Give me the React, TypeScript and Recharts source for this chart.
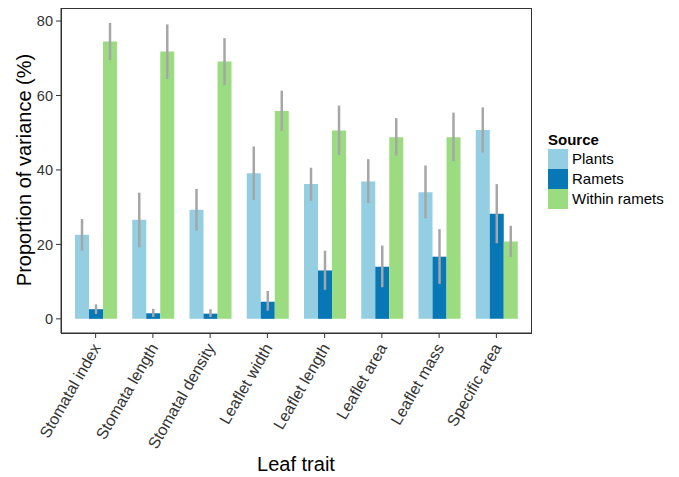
import { BarChart, Bar, XAxis, YAxis, ErrorBar } from "recharts";

const categories = [
  "Stomatal index",
  "Stomata length",
  "Stomatal density",
  "Leaflet width",
  "Leaflet length",
  "Leaflet area",
  "Leaflet mass",
  "Specific area",
];

const plants = [22.6, 26.6, 29.3, 39.1, 36.2, 36.9, 34.0, 50.7];
const plantsLow = [18.3, 19.2, 23.7, 31.9, 31.7, 31.1, 27.0, 44.7];
const plantsHigh = [26.8, 33.9, 34.9, 46.3, 40.6, 42.9, 41.2, 56.8];

const ramets = [2.6, 1.5, 1.4, 4.6, 13.0, 14.0, 16.7, 28.2];
const rametsLow = [1.3, 0.5, 0.5, 2.2, 7.8, 8.5, 9.4, 20.3];
const rametsHigh = [3.9, 2.7, 2.6, 7.5, 18.3, 19.7, 24.1, 36.2];

const within = [74.5, 71.8, 69.1, 55.8, 50.6, 48.8, 48.8, 20.8];
const withinLow = [69.5, 64.4, 62.8, 50.5, 44.0, 43.8, 42.4, 16.6];
const withinHigh = [79.5, 79.1, 75.4, 61.3, 57.3, 53.9, 55.4, 25.0];

const yTicks = [0, 20, 40, 60, 80];

const SERIES = [
  { key: "plants", name: "Plants", color: "#93cee2" },
  { key: "ramets", name: "Ramets", color: "#0877b6" },
  { key: "within", name: "Within ramets", color: "#9adc7f" },
];

const data = categories.map((trait, i) => ({
  trait,
  plants: plants[i],
  plantsErr: [plants[i] - plantsLow[i], plantsHigh[i] - plants[i]],
  ramets: ramets[i],
  rametsErr: [ramets[i] - rametsLow[i], rametsHigh[i] - ramets[i]],
  within: within[i],
  withinErr: [within[i] - withinLow[i], withinHigh[i] - within[i]],
}));

const FONT = "'Liberation Sans', Arial, sans-serif";
const ERR = "#a6a6a6";

const TraitTick = ({ x, y, payload }: any) => {
  const ox = x - 4;
  const oy = y + 2;
  return (
    <text
      x={ox}
      y={oy}
      transform={`rotate(-60 ${ox} ${oy})`}
      textAnchor="end"
      dominantBaseline="hanging"
      fontSize={16}
      fill="#333"
      fontFamily={FONT}
    >
      {payload.value}
    </text>
  );
};

export default function App() {
  return (
    <div style={{ position: "absolute", left: 0, top: 0, width: 679, height: 477, fontFamily: FONT }}>
      <BarChart
        width={679}
        height={477}
        data={data}
        margin={{ top: 8, right: 148, bottom: 0, left: 0 }}
        barCategoryGap="14%"
        barGap={0}
      >
        <XAxis
          dataKey="trait"
          height={144}
          padding={{ left: 6, right: 6 }}
          interval={0}
          tickSize={5}
          tickMargin={2}
          stroke="#333"
          tick={<TraitTick />}
          label={{
            content: () => (
              <text x={296} y={471} textAnchor="middle" fontSize={20} fill="#000" fontFamily={FONT}>
                Leaf trait
              </text>
            ),
          }}
        />
        <YAxis
          width={61}
          domain={[-3.8, 83.5]}
          allowDataOverflow
          ticks={yTicks}
          tickSize={5}
          tickMargin={3}
          stroke="#333"
          tick={{ fontSize: 14.5, fill: "#333", fontFamily: FONT }}
          label={{
            content: () => (
              <text
                x={31}
                y={170}
                transform="rotate(-90 31 170)"
                textAnchor="middle"
                fontSize={20}
                fill="#000"
                fontFamily={FONT}
              >
                Proportion of variance (%)
              </text>
            ),
          }}
        />
        {SERIES.map((s) => (
          <Bar key={s.key} dataKey={s.key} name={s.name} fill={s.color} isAnimationActive={false}>
            <ErrorBar dataKey={`${s.key}Err`} width={0} stroke={ERR} strokeWidth={2.5} direction="y" />
          </Bar>
        ))}
      </BarChart>
      {/* panel frame */}
      <div
        style={{
          position: "absolute",
          left: 60.5,
          top: 7.5,
          width: 471,
          height: 326,
          border: "1px solid #333",
          boxSizing: "border-box",
          pointerEvents: "none",
        }}
      />
      <div style={{ position: "absolute", left: 548, top: 131, fontSize: 15, color: "#000" }}>
        <div style={{ fontWeight: "bold", height: 18, lineHeight: "18px" }}>Source</div>
        {SERIES.map((s) => (
          <div key={s.key} style={{ display: "flex", alignItems: "center", height: 20 }}>
            <span style={{ width: 20, height: 20, background: s.color, display: "inline-block" }} />
            <span style={{ marginLeft: 4, lineHeight: "20px" }}>{s.name}</span>
          </div>
        ))}
      </div>
    </div>
  );
}
